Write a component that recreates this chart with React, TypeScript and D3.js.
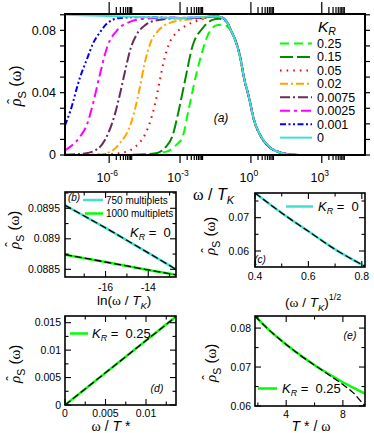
import React from 'react';
import * as d3 from 'd3';

const FONT = "'Liberation Sans', Arial, Helvetica, sans-serif";
const SERIF = "'Liberation Serif', 'Times New Roman', serif";

// ---------- panel (a): exponent of omega/T_K and rho_S ----------
const kLabels = ['0.25', '0.15', '0.05', '0.02', '0.0075', '0.0025', '0.001', '0'];
const kColors = ['#00ff00', '#008c00', '#ff0000', '#ffa500', '#6b2a5e', '#ff00ff', '#0000ff', '#40e0d0'];
const kDash = ['9,5', '13,4', '1.6,5', '8,3,2,3', '10,3,2,3', '10,4,3,4', '6,2.5,2,2.5,2,2.5', ''];

// common high-energy part that all curves share
const tailE = [-1.57, -1.28, -0.98, -0.85, -0.72, -0.43, -0.3, -0.09, 0.13, 0.43, 0.85, 1.2, 1.57, 2.04];
const tailV = [0.089, 0.0885, 0.0846, 0.08, 0.076, 0.061, 0.05, 0.0374, 0.0225, 0.0118, 0.0043, 0.0018, 0.0005, 0];

const e025 = [-7.87, -5.0, -3.61, -3.19, -2.89, -2.64, -2.34, -2.04, -1.79, -1.4, -1.15];
const v025 = [0, 0, 0.002, 0.006, 0.0118, 0.029, 0.05, 0.0674, 0.078, 0.0835, 0.0835];
const e015 = [-7.87, -5.5, -4.04, -3.61, -3.33, -3.05, -2.76, -2.48, -2.05, -1.63, -1.35];
const v015 = [0, 0, 0.001, 0.005, 0.0118, 0.0289, 0.05, 0.0695, 0.0813, 0.0867, 0.0875];
const e005 = [-7.87, -6.0, -5.31, -4.89, -4.46, -4.25, -4.04, -3.83, -3.66, -3.49, -3.19, -2.69, -2.13];
const v005 = [0, 0.0005, 0.002, 0.0053, 0.0139, 0.022, 0.034, 0.05, 0.062, 0.0706, 0.078, 0.0835, 0.0868];
const e002 = [-7.87, -6.5, -5.95, -5.53, -5.19, -4.93, -4.72, -4.51, -4.25, -3.91, -3.4, -2.76, -2.13];
const v002 = [0, 0.0003, 0.002, 0.008, 0.016, 0.028, 0.042, 0.058, 0.072, 0.08, 0.085, 0.0868, 0.0875];
const e00075 = [-7.87, -7.02, -6.59, -6.29, -6.04, -5.78, -5.53, -5.31, -5.1, -4.85, -4.46, -3.91, -3.19, -2.13];
const v00075 = [0.0002, 0.001, 0.003, 0.007, 0.014, 0.025, 0.04, 0.055, 0.068, 0.077, 0.0835, 0.0867, 0.0877, 0.088];
const e00025 = [-7.87, -7.74, -7.44, -7.23, -6.93, -6.68, -6.38, -6.08, -5.65, -5.1, -4.68, -3.83, -2.13];
const v00025 = [0.003, 0.0043, 0.008, 0.0118, 0.02, 0.0332, 0.0525, 0.0695, 0.0803, 0.0856, 0.0872, 0.088, 0.0882];
const e0001 = [-7.87, -7.65, -7.23, -6.93, -6.68, -6.38, -6.08, -5.53, -4.68, -2.98, -2.13];
const v0001 = [0.019, 0.028, 0.05, 0.062, 0.0717, 0.079, 0.0846, 0.088, 0.0885, 0.088, 0.0883];
const e0 = [-7.87, -6.38, -4.97, -2.98, -2.13];
const v0 = [0.09, 0.0893, 0.0888, 0.088, 0.0885];

const headsE = [e025, e015, e005, e002, e00075, e00025, e0001, e0];
const headsV = [v025, v015, v005, v002, v00075, v00025, v0001, v0];
const joinAt = [-0.85, -0.98, -1.57, -1.57, -1.57, -1.57, -1.57, -1.57];

// ---------- panel (b) ----------
const bX = [-17.9, -16, -14, -12.7];
const b750 = [0.08955, 0.08918, 0.08877, 0.0885];
const b1000 = [0.08874, 0.08862, 0.08849, 0.08841];

// ---------- panel (c) ----------
const cX = [0.4, 0.5, 0.6, 0.7, 0.812];
const cV = [0.0774, 0.0714, 0.0659, 0.0605, 0.0554];

// ---------- panel (d) ----------
const dX = [0, 0.0137];
const dV = [0, 0.0161];

// ---------- panel (e) ----------
const eX = [1.8, 2.65, 4, 5, 6.2, 7, 8, 9, 9.6];
const eV = [0.0831, 0.08, 0.0758, 0.073, 0.07, 0.0682, 0.0661, 0.0642, 0.0631];
const eFitX = [1.8, 2.65, 4, 5, 6.2, 7, 8, 8.7, 9.4, 9.6];
const eFit = [0.0831, 0.08, 0.0758, 0.073, 0.07, 0.068, 0.0655, 0.0635, 0.0607, 0.06];

type Box = { x0: number; x1: number; y0: number; y1: number };
type TickOpt = { dir: number; bMaj: number; bMin: number; tMaj: number; tMin: number; sMaj: number; sMin: number };

function tickLines(b: Box, xm: number[], xn: number[], ym: number[], yn: number[], o: TickOpt, sw: number) {
  const out: React.ReactElement[] = [];
  const d = o.dir;
  const add = (k: string, x1: number, y1: number, x2: number, y2: number) =>
    out.push(<line key={k} x1={x1} y1={y1} x2={x2} y2={y2} stroke="#000" strokeWidth={sw} />);
  xm.forEach((x, i) => {
    add('bM' + i, x, b.y1, x, b.y1 - d * o.bMaj);
    add('tM' + i, x, b.y0, x, b.y0 + d * o.tMaj);
  });
  xn.forEach((x, i) => {
    add('bn' + i, x, b.y1, x, b.y1 - d * o.bMin);
    add('tn' + i, x, b.y0, x, b.y0 + d * o.tMin);
  });
  ym.forEach((y, i) => {
    add('lM' + i, b.x0, y, b.x0 + d * o.sMaj, y);
    add('rM' + i, b.x1, y, b.x1 - d * o.sMaj, y);
  });
  yn.forEach((y, i) => {
    add('ln' + i, b.x0, y, b.x0 + d * o.sMin, y);
    add('rn' + i, b.x1, y, b.x1 - d * o.sMin, y);
  });
  return out;
}

// rotated "rho-hat_S (omega)" label, (x, y) = baseline point at the middle of the label
function RhoLabel({ x, y, size }: { x: number; y: number; size: number }) {
  const half = size * 1.33;
  return (
    <g transform={`translate(${x},${y}) rotate(-90)`}>
      <text x={-half} y={0} fontSize={size}>
        <tspan fontFamily={SERIF} fontStyle="italic">ρ</tspan>
        <tspan fontSize={size * 0.7} dy={size * 0.3}>S</tspan>
        <tspan dy={-size * 0.3} style={{ whiteSpace: 'pre' }}> (</tspan>
        <tspan fontFamily={SERIF}>ω</tspan>
        <tspan>)</tspan>
      </text>
      <text x={-half + size * 0.3} y={-size * 0.2} fontSize={size * 0.95} textAnchor="middle">ˆ</text>
    </g>
  );
}

function KR({ x, y, size, value }: { x: number; y: number; size: number; value?: string }) {
  return (
    <text x={x} y={y} fontSize={size} style={{ whiteSpace: 'pre' }}>
      <tspan fontStyle="italic">K</tspan>
      <tspan fontStyle="italic" fontSize={size * 0.68} dy={size * 0.22}>R</tspan>
      {value !== undefined && <tspan dy={-size * 0.22}>{' =  ' + value}</tspan>}
    </text>
  );
}

function zip(x: number[], y: number[]): [number, number][] {
  return x.map((v, i) => [v, y[i]] as [number, number]);
}

const smallTicks: TickOpt = { dir: 1, bMaj: 6, bMin: 3.5, tMaj: 6, tMin: 3.5, sMaj: 6, sMin: 3.5 };

function PanelA() {
  const b: Box = { x0: 65, x1: 365, y0: 14, y1: 155 };
  const x = d3.scaleLog().domain([10 ** -7.87, 10 ** 4.83]).range([b.x0, b.x1]);
  const y = d3.scaleLinear().domain([0, 0.0905]).range([b.y1, b.y0]);
  const line = d3.line<[number, number]>().x(d => x(10 ** d[0])).y(d => y(d[1])).curve(d3.curveMonotoneX);
  const xMaj = [1e-6, 1e-3, 1, 1e3];
  const xMin = xMaj.flatMap(m => [2, 3, 4, 5, 6, 7, 8, 9].map(k => k * m));
  const yMaj = [0, 0.04, 0.08];
  const yMin = [0.01, 0.02, 0.03, 0.05, 0.06, 0.07, 0.09];
  const rows = kLabels.map((_, i) => 43.5 + i * 13.45);
  return (
    <g>
      <clipPath id="clipA"><rect x={b.x0} y={b.y0} width={b.x1 - b.x0} height={b.y1 - b.y0} /></clipPath>
      <g clipPath="url(#clipA)">
        {kLabels.map((k, i) => {
          const j = tailE.findIndex(t => t >= joinAt[i] - 1e-9);
          const pts = zip(headsE[i].concat(tailE.slice(j)), headsV[i].concat(tailV.slice(j)));
          return <path key={k} d={line(pts) || ''} fill="none" stroke={kColors[i]} strokeWidth={2}
            strokeDasharray={kDash[i] || undefined} />;
        })}
      </g>
      <rect x={b.x0} y={b.y0} width={b.x1 - b.x0} height={b.y1 - b.y0} fill="none" stroke="#000" strokeWidth={2} />
      {tickLines(b, xMaj.map(x), xMin.map(x), yMaj.map(y), yMin.map(y),
        { dir: -1, bMaj: 8, bMin: 5, tMaj: 12, tMin: 7, sMaj: 5, sMin: 5 }, 1.2)}
      {yMaj.map(v => (
        <text key={v} x={56} y={y(v)} dy="0.35em" fontSize={12.5} textAnchor="end">{v === 0 ? '0' : String(v)}</text>
      ))}
      {xMaj.map(v => (
        <text key={v} x={x(v) - 2} y={182} fontSize={12.5} textAnchor="middle">
          10<tspan fontSize={8.5} dy={-6}>{String(Math.round(Math.log10(v)))}</tspan>
        </text>
      ))}
      <RhoLabel x={21} y={85} size={16} />
      <text x={193} y={200} fontSize={16}>
        <tspan fontFamily={SERIF}>ω</tspan>
        <tspan style={{ whiteSpace: 'pre' }}> / </tspan>
        <tspan fontStyle="italic">T</tspan>
        <tspan fontStyle="italic" fontSize={11} dy={4}>K</tspan>
      </text>
      <text x={221} y={122} fontSize={12} fontStyle="italic" textAnchor="middle">(a)</text>
      <KR x={318} y={32} size={15.5} />
      {kLabels.map((k, i) => (
        <g key={k}>
          <line x1={280} x2={312} y1={rows[i]} y2={rows[i]} stroke={kColors[i]} strokeWidth={2}
            strokeDasharray={kDash[i] || undefined} />
          <text x={317} y={rows[i]} dy="0.36em" fontSize={12.5}>{k}</text>
        </g>
      ))}
    </g>
  );
}

function PanelB() {
  const b: Box = { x0: 65, x1: 176, y0: 192, y1: 277 };
  const x = d3.scaleLinear().domain([-17.9, -12.7]).range([b.x0, b.x1]);
  const y = d3.scaleLinear().domain([0.088374, 0.089767]).range([b.y1, b.y0]);
  const line = d3.line<[number, number]>().x(d => x(d[0])).y(d => y(d[1]));
  const xMaj = [-16, -14];
  const yMaj = [0.0885, 0.089, 0.0895];
  return (
    <g>
      <clipPath id="clipB"><rect x={b.x0} y={b.y0} width={b.x1 - b.x0} height={b.y1 - b.y0} /></clipPath>
      <g clipPath="url(#clipB)">
        <path d={line(zip(bX, b750)) || ''} fill="none" stroke="#40e0d0" strokeWidth={2.5} />
        <path d={line(zip(bX, b1000)) || ''} fill="none" stroke="#00ff00" strokeWidth={2.5} />
        <path d={line(zip(bX, b750)) || ''} fill="none" stroke="#000" strokeWidth={1.3} strokeDasharray="7,3" />
        <path d={line(zip(bX, b1000)) || ''} fill="none" stroke="#000" strokeWidth={1.3} strokeDasharray="7,3" />
      </g>
      <rect x={b.x0} y={b.y0} width={b.x1 - b.x0} height={b.y1 - b.y0} fill="none" stroke="#000" strokeWidth={1.6} />
      {tickLines(b, xMaj.map(x), [-17, -15, -13].map(x), yMaj.map(y), [0.08875, 0.08925, 0.08975].map(y), smallTicks, 1.1)}
      {yMaj.map(v => <text key={v} x={60} y={y(v)} dy="0.35em" fontSize={10.5} textAnchor="end">{String(v)}</text>)}
      {xMaj.map(v => <text key={v} x={x(v)} y={291} fontSize={10.5} textAnchor="middle">{String(v)}</text>)}
      <RhoLabel x={19} y={229} size={15} />
      <text x={97} y={305} fontSize={13.5}>
        ln(<tspan fontFamily={SERIF}>ω</tspan>
        <tspan style={{ whiteSpace: 'pre' }}> / </tspan>
        <tspan fontStyle="italic">T</tspan>
        <tspan fontStyle="italic" fontSize={9.5} dy={3.5}>K</tspan>
        <tspan dy={-3.5}>)</tspan>
      </text>
      <text x={74} y={201} fontSize={10} fontStyle="italic" textAnchor="middle">(b)</text>
      <line x1={83} x2={103} y1={200} y2={200} stroke="#40e0d0" strokeWidth={2.5} />
      <text x={106} y={200} dy="0.36em" fontSize={10}>750 multiplets</text>
      <line x1={85} x2={103} y1={213.5} y2={213.5} stroke="#00ff00" strokeWidth={2.5} />
      <text x={106} y={213.5} dy="0.36em" fontSize={10}>1000 multiplets</text>
      <KR x={130} y={237} size={13} value="0" />
    </g>
  );
}

function PanelC() {
  const b: Box = { x0: 255, x1: 365, y0: 193, y1: 267 };
  const x = d3.scaleLinear().domain([0.4, 0.812]).range([b.x0, b.x1]);
  const y = d3.scaleLinear().domain([0.0552, 0.0774]).range([b.y1, b.y0]);
  const line = d3.line<[number, number]>().x(d => x(d[0])).y(d => y(d[1])).curve(d3.curveMonotoneX);
  const xMaj = [0.4, 0.6, 0.8];
  const yMaj = [0.06, 0.07];
  return (
    <g>
      <clipPath id="clipC"><rect x={b.x0} y={b.y0} width={b.x1 - b.x0} height={b.y1 - b.y0} /></clipPath>
      <g clipPath="url(#clipC)">
        <path d={line(zip(cX, cV)) || ''} fill="none" stroke="#40e0d0" strokeWidth={2.5} />
        <path d={line(zip(cX, cV)) || ''} fill="none" stroke="#000" strokeWidth={1.3} strokeDasharray="7,3" />
      </g>
      <rect x={b.x0} y={b.y0} width={b.x1 - b.x0} height={b.y1 - b.y0} fill="none" stroke="#000" strokeWidth={1.6} />
      {tickLines(b, xMaj.map(x), [0.5, 0.7].map(x), yMaj.map(y), [0.065, 0.075].map(y), smallTicks, 1.1)}
      {yMaj.map(v => <text key={v} x={249} y={y(v)} dy="0.35em" fontSize={10.5} textAnchor="end">{String(v)}</text>)}
      {xMaj.map(v => <text key={v} x={x(v)} y={280} fontSize={10.5} textAnchor="middle">{String(v)}</text>)}
      <RhoLabel x={215} y={235} size={15} />
      <text x={285} y={307} fontSize={13.5}>
        (<tspan fontFamily={SERIF}>ω</tspan>
        <tspan style={{ whiteSpace: 'pre' }}> / </tspan>
        <tspan fontStyle="italic">T</tspan>
        <tspan fontStyle="italic" fontSize={9.5} dy={3.5}>K</tspan>
        <tspan dy={-3.5}>)</tspan>
        <tspan fontSize={9} dy={-7}>1/2</tspan>
      </text>
      <text x={260} y={263} fontSize={10} fontStyle="italic" textAnchor="middle">(c)</text>
      <line x1={286} x2={313} y1={206.5} y2={206.5} stroke="#40e0d0" strokeWidth={2.5} />
      <KR x={318} y={211} size={13} value="0" />
    </g>
  );
}

function PanelD() {
  const b: Box = { x0: 65, x1: 176, y0: 316, y1: 405 };
  const x = d3.scaleLinear().domain([0, 0.0137]).range([b.x0, b.x1]);
  const y = d3.scaleLinear().domain([0, 0.01622]).range([b.y1, b.y0]);
  const line = d3.line<[number, number]>().x(d => x(d[0])).y(d => y(d[1]));
  const xMaj = [0, 0.005, 0.01];
  const yMaj = [0, 0.005, 0.01, 0.015];
  return (
    <g>
      <clipPath id="clipD"><rect x={b.x0} y={b.y0} width={b.x1 - b.x0} height={b.y1 - b.y0} /></clipPath>
      <g clipPath="url(#clipD)">
        <path d={line(zip(dX, dV)) || ''} fill="none" stroke="#00ff00" strokeWidth={2.5} />
        <path d={line(zip(dX, dV)) || ''} fill="none" stroke="#000" strokeWidth={1.3} strokeDasharray="7,3" />
      </g>
      <rect x={b.x0} y={b.y0} width={b.x1 - b.x0} height={b.y1 - b.y0} fill="none" stroke="#000" strokeWidth={1.6} />
      {tickLines(b, xMaj.map(x), [0.0025, 0.0075, 0.0125].map(x), yMaj.map(y), [0.0025, 0.0075, 0.0125].map(y), smallTicks, 1.1)}
      {yMaj.map(v => <text key={v} x={61} y={y(v)} dy="0.35em" fontSize={10.5} textAnchor="end">{String(v)}</text>)}
      {xMaj.map(v => <text key={v} x={x(v)} y={416.5} fontSize={10.5} textAnchor="middle">{String(v)}</text>)}
      <RhoLabel x={20} y={363} size={15} />
      <text x={111} y={430.5} fontSize={14} textAnchor="middle" style={{ whiteSpace: 'pre' }}>
        <tspan fontFamily={SERIF}>ω</tspan> / <tspan fontStyle="italic">T</tspan> *
      </text>
      <text x={157} y={392} fontSize={10.5} fontStyle="italic" textAnchor="middle">(d)</text>
      <line x1={70} x2={88} y1={333.5} y2={333.5} stroke="#00ff00" strokeWidth={2.5} />
      <KR x={92} y={338} size={13} value="0.25" />
    </g>
  );
}

function PanelE() {
  const b: Box = { x0: 255, x1: 365, y0: 316, y1: 406 };
  const x = d3.scaleLinear().domain([1.8, 9.56]).range([b.x0, b.x1]);
  const y = d3.scaleLinear().domain([0.06, 0.0831]).range([b.y1, b.y0]);
  const line = d3.line<[number, number]>().x(d => x(d[0])).y(d => y(d[1])).curve(d3.curveMonotoneX);
  const xMaj = [4, 8];
  const yMaj = [0.06, 0.07, 0.08];
  return (
    <g>
      <clipPath id="clipE"><rect x={b.x0} y={b.y0} width={b.x1 - b.x0} height={b.y1 - b.y0} /></clipPath>
      <g clipPath="url(#clipE)">
        <path d={line(zip(eX, eV)) || ''} fill="none" stroke="#00ff00" strokeWidth={2.5} />
        <path d={line(zip(eFitX, eFit)) || ''} fill="none" stroke="#000" strokeWidth={1.3} strokeDasharray="7,3" />
      </g>
      <rect x={b.x0} y={b.y0} width={b.x1 - b.x0} height={b.y1 - b.y0} fill="none" stroke="#000" strokeWidth={1.6} />
      {tickLines(b, xMaj.map(x), [2, 6].map(x), yMaj.map(y), [0.065, 0.075].map(y), smallTicks, 1.1)}
      {yMaj.map(v => <text key={v} x={251} y={y(v)} dy="0.35em" fontSize={10.5} textAnchor="end">{String(v)}</text>)}
      {xMaj.map(v => <text key={v} x={x(v)} y={417.5} fontSize={10.5} textAnchor="middle">{String(v)}</text>)}
      <RhoLabel x={216} y={362} size={15} />
      <text x={311} y={430.5} fontSize={14} textAnchor="middle" style={{ whiteSpace: 'pre' }}>
        <tspan fontStyle="italic">T</tspan> * / <tspan fontFamily={SERIF}>ω</tspan>
      </text>
      <text x={350} y={339} fontSize={10.5} fontStyle="italic" textAnchor="middle">(e)</text>
      <line x1={258} x2={277} y1={388.5} y2={388.5} stroke="#00ff00" strokeWidth={2.5} />
      <KR x={282} y={393} size={13} value="0.25" />
    </g>
  );
}

export default function App() {
  return (
    <svg width={374} height={433} fontFamily={FONT}
      style={{ position: 'absolute', left: 0, top: 0, background: '#fff' }}>
      <PanelA />
      <PanelB />
      <PanelC />
      <PanelD />
      <PanelE />
    </svg>
  );
}
